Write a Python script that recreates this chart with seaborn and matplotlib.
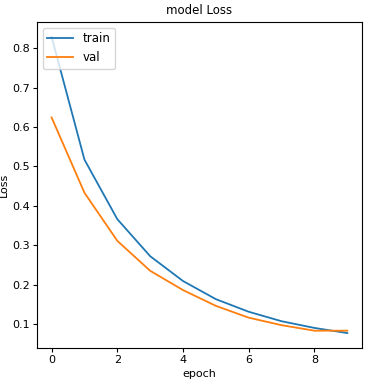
import matplotlib
matplotlib.use("Agg")
import matplotlib.pyplot as plt
import seaborn as sns
import pandas as pd

epochs = [0, 1, 2, 3, 4, 5, 6, 7, 8, 9]
train_loss = [0.829, 0.517, 0.366, 0.272, 0.209, 0.163, 0.131, 0.107, 0.090, 0.077]
val_loss = [0.624, 0.433, 0.311, 0.235, 0.186, 0.146, 0.116, 0.097, 0.083, 0.083]

df = pd.DataFrame({
    "epoch": epochs * 2,
    "loss": train_loss + val_loss,
    "set": ["train"] * len(epochs) + ["val"] * len(epochs),
})

plt.rcParams["font.size"] = 8
fig, ax = plt.subplots(figsize=(3.68, 3.9), dpi=100)
sns.lineplot(data=df, x="epoch", y="loss", hue="set",
             palette=["tab:blue", "tab:orange"], linewidth=1.3, ax=ax)

ax.set_title("model Loss", fontsize=8.5)
ax.set_xlabel("epoch", labelpad=3)
ax.set_ylabel("Loss", labelpad=2)
ax.tick_params(labelsize=8, length=3, pad=2)
ax.legend(loc="upper left", title=None, fontsize=8.5, handlelength=2.2)
fig.subplots_adjust(left=0.10, right=0.984, top=0.944, bottom=0.108)
fig.savefig("out.png", dpi=100)
